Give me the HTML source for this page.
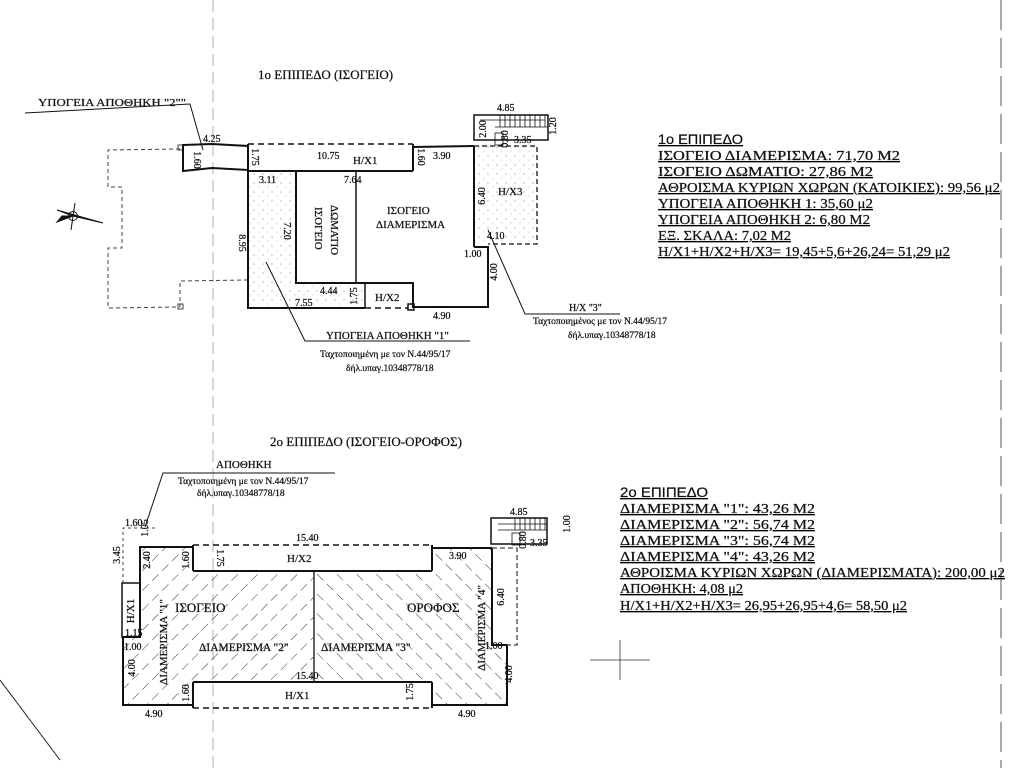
<!DOCTYPE html>
<html><head><meta charset="utf-8"><style>
html,body{margin:0;padding:0;background:#fff;}
svg{display:block;}
text{font-family:"Liberation Serif","DejaVu Serif",serif;fill:#111;stroke:#111;stroke-width:0.25;}
.s{font-family:"Liberation Sans","DejaVu Sans",sans-serif;}
</style></head><body>
<svg width="1024" height="768" viewBox="0 0 1024 768" xmlns="http://www.w3.org/2000/svg">
<defs>
<pattern id="dots" width="9" height="9" patternUnits="userSpaceOnUse"><circle cx="2" cy="3" r="0.6" fill="#888"/><circle cx="7" cy="7" r="0.5" fill="#999"/></pattern>
<pattern id="hf" width="14" height="14" patternUnits="userSpaceOnUse" patternTransform="rotate(45)"><line x1="0" y1="0" x2="0" y2="14" stroke="#333" stroke-width="1" stroke-dasharray="9 5"/></pattern>
<pattern id="hb" width="14" height="14" patternUnits="userSpaceOnUse" patternTransform="rotate(-45)"><line x1="0" y1="0" x2="0" y2="14" stroke="#333" stroke-width="1" stroke-dasharray="9 5"/></pattern>
</defs>
<rect width="1024" height="768" fill="#fff"/>
<line x1="213" y1="0" x2="213" y2="768" stroke="#ccc" stroke-width="1.5" stroke-dasharray="12 6"/>
<line x1="1001" y1="0" x2="1001" y2="768" stroke="#aaa" stroke-width="2" stroke-dasharray="30 8"/>
<line x1="0" y1="680" x2="60" y2="760" stroke="#222" stroke-width="1"/>

<!-- ===== TOP PLAN ===== -->
<text x="258" y="79" font-size="13">1ο ΕΠΙΠΕΔΟ (ΙΣΟΓΕΙΟ)</text>
<text x="38" y="106" font-size="11" textLength="148" lengthAdjust="spacingAndGlyphs">ΥΠΟΓΕΙΑ ΑΠΟΘΗΚΗ "2""</text>
<polyline points="25,113 190,104 203,150" fill="none" stroke="#111" stroke-width="1"/>
<polyline points="180,149 108,150 108,187 122,187 122,248 108,248 108,308 180,307" fill="none" stroke="#444" stroke-dasharray="4 3"/>
<polyline points="248,280 180,281 180,307" fill="none" stroke="#444" stroke-dasharray="4 3"/>
<rect x="178" y="145" width="5" height="5" fill="none" stroke="#444"/>
<rect x="178" y="304" width="5" height="5" fill="none" stroke="#444"/>
<g stroke="#111" stroke-width="1" fill="none">
<circle cx="73" cy="216" r="4.5"/><line x1="75" y1="203" x2="71" y2="230"/>
<polygon points="57,210 103,223 73,216" fill="#111"/><polygon points="57,222 73,216 62,216" fill="#111"/>
</g>
<polygon points="183,145 212,144 248,146 248,170 212,168 183,171" fill="none" stroke="#111" stroke-width="2"/>
<polygon points="248,171 296,171 296,283 365,283 365,308 248,308" fill="url(#dots)"/>
<rect x="474" y="146" width="63" height="98" fill="url(#dots)"/>
<line x1="248" y1="144" x2="413" y2="144" stroke="#111" stroke-width="1.5" stroke-dasharray="6 4"/>
<line x1="248" y1="171" x2="413" y2="171" stroke="#111" stroke-width="2"/>
<line x1="413" y1="144" x2="413" y2="171" stroke="#111" stroke-width="2"/>
<line x1="413" y1="147" x2="474" y2="146" stroke="#111" stroke-width="2"/>
<polyline points="248,144 248,308 365,308" fill="none" stroke="#111" stroke-width="2"/>
<line x1="365" y1="308" x2="408" y2="308" stroke="#111" stroke-width="1.5" stroke-dasharray="6 4"/>
<rect x="408" y="304" width="6" height="6" fill="none" stroke="#111" stroke-width="1.5"/>
<polyline points="414,307 488,307 488,247 474,247" fill="none" stroke="#111" stroke-width="2"/>
<line x1="474" y1="146" x2="474" y2="247" stroke="#111" stroke-width="2"/>
<polyline points="474,146 537,146 537,244 488,244" fill="none" stroke="#111" stroke-width="1.3" stroke-dasharray="5 3"/>
<polyline points="296,171 296,283 413,283 413,308" fill="none" stroke="#111" stroke-width="2"/>
<line x1="356" y1="171" x2="356" y2="283" stroke="#111" stroke-width="1.5"/>
<line x1="365" y1="283" x2="365" y2="308" stroke="#111" stroke-width="1.5"/>
<rect x="474" y="115" width="74" height="25" fill="none" stroke="#111" stroke-width="1.5"/>
<g stroke="#111" stroke-width="0.8">
<line x1="500" y1="115" x2="500" y2="127"/><line x1="505" y1="115" x2="505" y2="127"/><line x1="510" y1="115" x2="510" y2="127"/><line x1="515" y1="115" x2="515" y2="127"/><line x1="520" y1="115" x2="520" y2="127"/><line x1="525" y1="115" x2="525" y2="127"/><line x1="530" y1="115" x2="530" y2="127"/><line x1="535" y1="115" x2="535" y2="127"/><line x1="540" y1="115" x2="540" y2="127"/><line x1="545" y1="115" x2="545" y2="127"/>
<line x1="480" y1="120" x2="545" y2="120"/><line x1="495" y1="127" x2="548" y2="127"/>
<rect x="495" y="133" width="8" height="12" fill="none"/>
</g>
<g class="s" font-size="10">
<text x="203" y="142">4.25</text>
<text x="194" y="160" transform="rotate(90 194 160)" text-anchor="middle">1.60</text>
<text x="252" y="157" transform="rotate(90 252 157)" text-anchor="middle">1.75</text>
<text x="317" y="159">10.75</text>
<text x="418" y="157" transform="rotate(90 418 157)" text-anchor="middle">1.60</text>
<text x="433" y="159">3.90</text>
<text x="259" y="183">3.11</text>
<text x="344" y="183">7.64</text>
<text x="239" y="243" transform="rotate(90 239 243)" text-anchor="middle">8.95</text>
<text x="284" y="231" transform="rotate(90 284 231)" text-anchor="middle">7.20</text>
<text x="320" y="294">4.44</text>
<text x="295" y="306">7.55</text>
<text x="357" y="296" transform="rotate(-90 357 296)" text-anchor="middle">1.75</text>
<text x="433" y="319">4.90</text>
<text x="464" y="257">1.00</text>
<text x="497" y="272" transform="rotate(-90 497 272)" text-anchor="middle">4.00</text>
<text x="487" y="239">4.10</text>
<text x="485" y="196" transform="rotate(-90 485 196)" text-anchor="middle">6.40</text>
<text x="497" y="111">4.85</text>
<text x="556" y="126" transform="rotate(-90 556 126)" text-anchor="middle">1.20</text>
<text x="486" y="129" transform="rotate(-90 486 129)" text-anchor="middle">2.00</text>
<text x="508" y="139" transform="rotate(-90 508 139)" text-anchor="middle">0.80</text>
<text x="514" y="143">3.35</text>
</g>
<text x="353" y="164" font-size="11">Η/Χ1</text>
<text x="498" y="195" font-size="11">Η/Χ3</text>
<text x="375" y="301" font-size="11">Η/Χ2</text>
<text x="387" y="214" font-size="11">ΙΣΟΓΕΙΟ</text>
<text x="376" y="228" font-size="11">ΔΙΑΜΕΡΙΣΜΑ</text>
<text x="315" y="207" font-size="11" transform="rotate(90 315 207)">ΙΣΟΓΕΙΟ</text>
<text x="331" y="205" font-size="11" transform="rotate(90 331 205)">ΔΩΜΑΤΙΟ</text>
<polyline points="266,262 305,341 470,341" fill="none" stroke="#111"/>
<text x="326" y="339" font-size="11">ΥΠΟΓΕΙΑ ΑΠΟΘΗΚΗ "1"</text>
<text x="320" y="357" font-size="9.5">Ταχτοποιημένη με τον Ν.44/95/17</text>
<text x="346" y="371" font-size="9.5">δήλ.υπαγ.10348778/18</text>
<polyline points="488,230 525,314 620,314" fill="none" stroke="#111"/>
<text x="569" y="311" font-size="10">Η/Χ "3"</text>
<text x="533" y="324" font-size="9.5">Ταχτοποιημένος με τον Ν.44/95/17</text>
<text x="568" y="338" font-size="9.5">δήλ.υπαγ.10348778/18</text>

<g font-size="13.5" text-decoration="underline">
<text class="s" x="658" y="144" textLength="85" lengthAdjust="spacingAndGlyphs">1ο ΕΠΙΠΕΔΟ</text>
<text x="658" y="160" textLength="242" lengthAdjust="spacingAndGlyphs">ΙΣΟΓΕΙΟ ΔΙΑΜΕΡΙΣΜΑ: 71,70 Μ2</text>
<text x="658" y="176" textLength="215" lengthAdjust="spacingAndGlyphs">ΙΣΟΓΕΙΟ ΔΩΜΑΤΙΟ: 27,86 Μ2</text>
<text x="658" y="192" textLength="342" lengthAdjust="spacingAndGlyphs">ΑΘΡΟΙΣΜΑ ΚΥΡΙΩΝ ΧΩΡΩΝ (ΚΑΤΟΙΚΙΕΣ): 99,56 μ2</text>
<text x="658" y="208" textLength="215" lengthAdjust="spacingAndGlyphs">ΥΠΟΓΕΙΑ ΑΠΟΘΗΚΗ 1: 35,60 μ2</text>
<text x="658" y="224" textLength="212" lengthAdjust="spacingAndGlyphs">ΥΠΟΓΕΙΑ ΑΠΟΘΗΚΗ 2: 6,80 Μ2</text>
<text x="658" y="240" textLength="133" lengthAdjust="spacingAndGlyphs">ΕΞ. ΣΚΑΛΑ: 7,02 Μ2</text>
<text x="658" y="256" textLength="292" lengthAdjust="spacingAndGlyphs">Η/Χ1+Η/Χ2+Η/Χ3= 19,45+5,6+26,24= 51,29 μ2</text>
</g>

<!-- ===== BOTTOM PLAN ===== -->
<text x="270" y="446" font-size="13">2ο ΕΠΙΠΕΔΟ (ΙΣΟΓΕΙΟ-ΟΡΟΦΟΣ)</text>
<text x="216" y="468" font-size="11">ΑΠΟΘΗΚΗ</text>
<polyline points="145,527 163,473 335,473" fill="none" stroke="#111"/>
<text x="178" y="484" font-size="9.5">Ταχτοποιημένη με τον Ν.44/95/17</text>
<text x="197" y="496" font-size="9.5">δήλ.υπαγ.10348778/18</text>
<polygon points="140,547 193,547 193,705 123,705 123,637 140,637" fill="url(#hf)"/>
<rect x="193" y="571" width="121" height="111" fill="url(#hf)"/>
<rect x="314" y="571" width="118" height="111" fill="url(#hb)"/>
<polygon points="432,548 492,548 492,645 507,645 507,705 432,705" fill="url(#hb)"/>
<g fill="none" stroke="#111" stroke-width="2">
<polyline points="193,547 140,547 140,637 123,637 123,705 193,705"/>
<rect x="122" y="583" width="18" height="54" stroke-width="1.5"/>
<line x1="193" y1="571" x2="432" y2="571"/>
<line x1="193" y1="545" x2="193" y2="571"/>
<line x1="432" y1="545" x2="432" y2="571"/>
<line x1="193" y1="682" x2="432" y2="682"/>
<line x1="193" y1="682" x2="193" y2="708"/>
<line x1="432" y1="682" x2="432" y2="708"/>
<polyline points="432,548 492,548"/>
<polyline points="432,705 507,705 507,645 492,645 492,548"/>
<line x1="314" y1="571" x2="314" y2="682" stroke-width="1.3"/>
</g>
<line x1="193" y1="545" x2="432" y2="545" stroke="#111" stroke-width="1.5" stroke-dasharray="6 4"/>
<line x1="193" y1="708" x2="432" y2="708" stroke="#111" stroke-width="1.5" stroke-dasharray="6 4"/>
<polyline points="123,583 123,528 155,528" fill="none" stroke="#444" stroke-dasharray="3 3"/>
<polyline points="492,548 517,548 517,645 507,645" fill="none" stroke="#444" stroke-width="1.3" stroke-dasharray="5 3"/>
<rect x="491" y="518" width="56" height="26" fill="none" stroke="#111" stroke-width="1.5"/>
<g stroke="#111" stroke-width="0.8">
<line x1="515" y1="518" x2="515" y2="530"/><line x1="520" y1="518" x2="520" y2="530"/><line x1="525" y1="518" x2="525" y2="530"/><line x1="530" y1="518" x2="530" y2="530"/><line x1="535" y1="518" x2="535" y2="530"/><line x1="540" y1="518" x2="540" y2="530"/><line x1="545" y1="518" x2="545" y2="530"/>
<line x1="498" y1="524" x2="547" y2="524"/><line x1="498" y1="530" x2="547" y2="530"/>
<rect x="512" y="533" width="8" height="12" fill="none"/>
</g>
<g class="s" font-size="10">
<text x="125" y="526">1.60</text>
<text x="148" y="528" transform="rotate(-90 148 528)" text-anchor="middle">1.05</text>
<text x="120" y="555" transform="rotate(-90 120 555)" text-anchor="middle">3.45</text>
<text x="150" y="560" transform="rotate(-90 150 560)" text-anchor="middle">2.40</text>
<text x="189" y="560" transform="rotate(-90 189 560)" text-anchor="middle">1.60</text>
<text x="217" y="558" transform="rotate(90 217 558)" text-anchor="middle">1.75</text>
<text x="296" y="541">15.40</text>
<text x="449" y="559">3.90</text>
<text x="125" y="636">1.15</text>
<text x="124" y="650">1.00</text>
<text x="135" y="668" transform="rotate(-90 135 668)" text-anchor="middle">4.00</text>
<text x="189" y="693" transform="rotate(-90 189 693)" text-anchor="middle">1.60</text>
<text x="296" y="679">15.40</text>
<text x="413" y="692" transform="rotate(-90 413 692)" text-anchor="middle">1.75</text>
<text x="145" y="717">4.90</text>
<text x="458" y="717">4.90</text>
<text x="485" y="649">1.00</text>
<text x="512" y="674" transform="rotate(-90 512 674)" text-anchor="middle">4.00</text>
<text x="504" y="597" transform="rotate(-90 504 597)" text-anchor="middle">6.40</text>
<text x="510" y="515">4.85</text>
<text x="570" y="524" transform="rotate(-90 570 524)" text-anchor="middle">1.00</text>
<text x="526" y="540" transform="rotate(-90 526 540)" text-anchor="middle">0.80</text>
<text x="530" y="546">3.35</text>
</g>
<text x="134" y="611" font-size="11" transform="rotate(-90 134 611)" text-anchor="middle">Η/Χ1</text>
<text x="167" y="642" font-size="11" transform="rotate(-90 167 642)" text-anchor="middle">ΔΙΑΜΕΡΙΣΜΑ "1"</text>
<text x="485" y="628" font-size="11" transform="rotate(-90 485 628)" text-anchor="middle">ΔΙΑΜΕΡΙΣΜΑ "4"</text>
<text x="287" y="562" font-size="11">Η/Χ2</text>
<text x="285" y="699" font-size="11">Η/Χ1</text>
<text x="175" y="612" font-size="13">ΙΣΟΓΕΙΟ</text>
<text x="407" y="612" font-size="13">ΟΡΟΦΟΣ</text>
<text x="199" y="651" font-size="11.5">ΔΙΑΜΕΡΙΣΜΑ "2"</text>
<text x="321" y="651" font-size="11.5">ΔΙΑΜΕΡΙΣΜΑ "3"</text>
<line x1="590" y1="660" x2="650" y2="660" stroke="#333" stroke-width="0.8"/>
<line x1="620" y1="640" x2="620" y2="680" stroke="#333" stroke-width="0.8"/>

<g font-size="13.5" text-decoration="underline">
<text class="s" x="620" y="497" textLength="88" lengthAdjust="spacingAndGlyphs">2ο ΕΠΙΠΕΔΟ</text>
<text x="620" y="513" textLength="195" lengthAdjust="spacingAndGlyphs">ΔΙΑΜΕΡΙΣΜΑ "1": 43,26 Μ2</text>
<text x="620" y="529" textLength="195" lengthAdjust="spacingAndGlyphs">ΔΙΑΜΕΡΙΣΜΑ "2": 56,74 Μ2</text>
<text x="620" y="545" textLength="195" lengthAdjust="spacingAndGlyphs">ΔΙΑΜΕΡΙΣΜΑ "3": 56,74 Μ2</text>
<text x="620" y="561" textLength="195" lengthAdjust="spacingAndGlyphs">ΔΙΑΜΕΡΙΣΜΑ "4": 43,26 Μ2</text>
<text x="620" y="577" textLength="385" lengthAdjust="spacingAndGlyphs">ΑΘΡΟΙΣΜΑ ΚΥΡΙΩΝ ΧΩΡΩΝ (ΔΙΑΜΕΡΙΣΜΑΤΑ): 200,00 μ2</text>
<text x="620" y="593" textLength="123" lengthAdjust="spacingAndGlyphs">ΑΠΟΘΗΚΗ: 4,08 μ2</text>
<text x="620" y="610" textLength="287" lengthAdjust="spacingAndGlyphs">Η/Χ1+Η/Χ2+Η/Χ3= 26,95+26,95+4,6= 58,50 μ2</text>
</g>
</svg>
</body></html>
